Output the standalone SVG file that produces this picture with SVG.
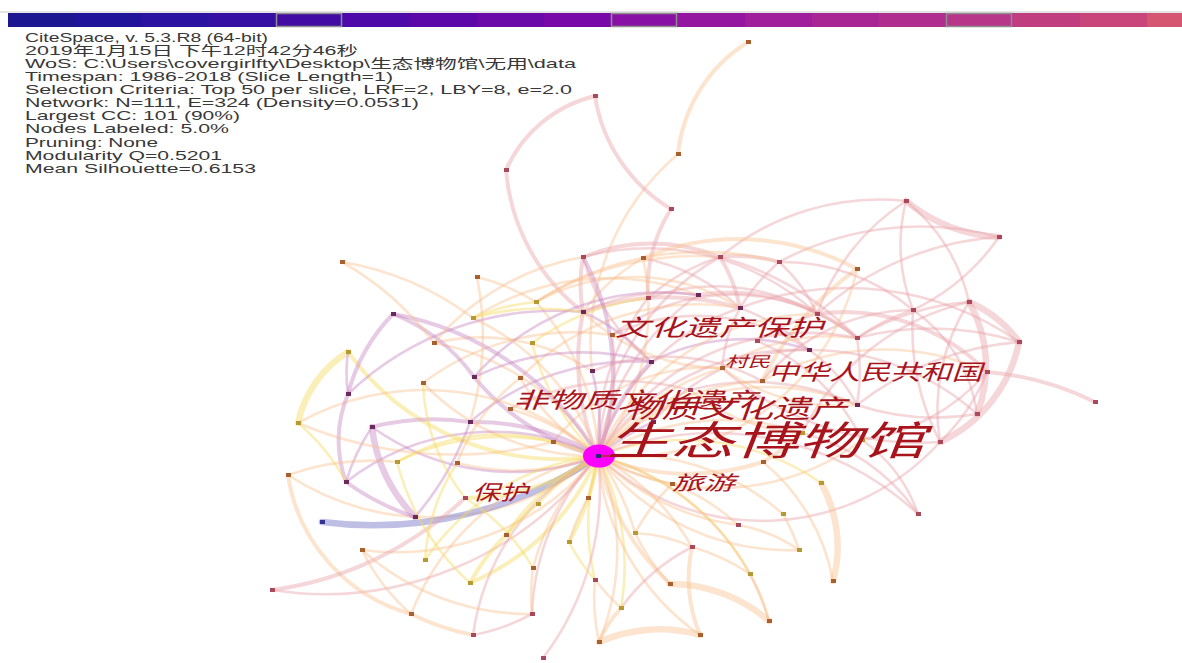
<svg xmlns="http://www.w3.org/2000/svg" width="1182" height="663" viewBox="0 0 1182 663">
<style>
.hd{font-family:"Liberation Sans","Noto Sans CJK SC",sans-serif;font-size:13px;fill:#383838}
.lb{font-family:"Noto Sans CJK SC","Noto Sans CJK TC",sans-serif;font-style:italic;fill:#a8141c}
#edges path{fill:none;stroke-linecap:round;stroke-opacity:.42}
.p{stroke:#e8a0a8}.o{stroke:#f8be8c}.y{stroke:#f6d858}.v{stroke:#c684c0}.b{stroke:#8a8ad0;stroke-opacity:.55!important}
.w1{stroke-width:2.6}.w2{stroke-width:4}.w3{stroke-width:6.5}
.n1{fill:#6a2a5c}.n2{fill:#a84a5c}.n3{fill:#a8602e}.n4{fill:#b49a30}.n5{fill:#34348e}
.box{fill:none;stroke:#8e8e8e;stroke-width:1.5}
</style>
<rect width="1182" height="663" fill="#ffffff"/>
<g id="colorbar">
<rect x="0" y="11" width="1182" height="2" fill="#e4e4e4"/>
<rect x="8" y="13" width="67" height="14" fill="#1c1690"/>
<rect x="75" y="13" width="67" height="14" fill="#22149a"/>
<rect x="142" y="13" width="67" height="14" fill="#2c12a0"/>
<rect x="209" y="13" width="67" height="14" fill="#3610a2"/>
<rect x="276" y="13" width="67" height="14" fill="#420ca4"/>
<rect x="343" y="13" width="67" height="14" fill="#4e0aa8"/>
<rect x="410" y="13" width="67" height="14" fill="#5c08a8"/>
<rect x="477" y="13" width="67" height="14" fill="#6a08a8"/>
<rect x="544" y="13" width="67" height="14" fill="#7808a8"/>
<rect x="611" y="13" width="67" height="14" fill="#8810a4"/>
<rect x="678" y="13" width="67" height="14" fill="#9416a0"/>
<rect x="745" y="13" width="67" height="14" fill="#a01e9c"/>
<rect x="812" y="13" width="67" height="14" fill="#a82694"/>
<rect x="879" y="13" width="67" height="14" fill="#b02e8e"/>
<rect x="946" y="13" width="67" height="14" fill="#b8368a"/>
<rect x="1013" y="13" width="67" height="14" fill="#c03e80"/>
<rect x="1080" y="13" width="67" height="14" fill="#c8467a"/>
<rect x="1147" y="13" width="35" height="14" fill="#d45670"/>
<rect class="box" x="276.5" y="13.5" width="65" height="13"/>
<rect class="box" x="611.5" y="13.5" width="65" height="13"/>
<rect class="box" x="946.5" y="13.5" width="65" height="13"/>
</g>
<g id="header">
<text class="hd" x="25" y="42" textLength="243" lengthAdjust="spacingAndGlyphs">CiteSpace, v. 5.3.R8 (64-bit)</text>
<text class="hd" x="25" y="55" textLength="333" lengthAdjust="spacingAndGlyphs">2019年1月15日 下午12时42分46秒</text>
<text class="hd" x="25" y="68" textLength="551" lengthAdjust="spacingAndGlyphs">WoS: C:\Users\covergirlfty\Desktop\生态博物馆\无用\data</text>
<text class="hd" x="25" y="81" textLength="368" lengthAdjust="spacingAndGlyphs">Timespan: 1986-2018 (Slice Length=1)</text>
<text class="hd" x="25" y="94" textLength="547" lengthAdjust="spacingAndGlyphs">Selection Criteria: Top 50 per slice, LRF=2, LBY=8, e=2.0</text>
<text class="hd" x="25" y="107" textLength="394" lengthAdjust="spacingAndGlyphs">Network: N=111, E=324 (Density=0.0531)</text>
<text class="hd" x="25" y="120" textLength="215" lengthAdjust="spacingAndGlyphs">Largest CC: 101 (90%)</text>
<text class="hd" x="25" y="133" textLength="204" lengthAdjust="spacingAndGlyphs">Nodes Labeled: 5.0%</text>
<text class="hd" x="25" y="147" textLength="133" lengthAdjust="spacingAndGlyphs">Pruning: None</text>
<text class="hd" x="25" y="160" textLength="197" lengthAdjust="spacingAndGlyphs">Modularity Q=0.5201</text>
<text class="hd" x="25" y="173" textLength="231" lengthAdjust="spacingAndGlyphs">Mean Silhouette=0.6153</text>
</g>
<g id="edges">
<path class="o w2" d="M748 42A150 150 0 0 0 678 154"/>
<path class="o w1" d="M678 154A250 250 0 0 0 592 371"/>
<path class="p w2" d="M595 96A130 130 0 0 0 506 170"/>
<path class="p w2" d="M595 96A160 160 0 0 0 671 209"/>
<path class="p w2" d="M506 170A200 200 0 0 0 583 312"/>
<path class="p w2" d="M671 209A150 150 0 0 0 648 298"/>
<path class="p w3" d="M906 201A160 160 0 0 0 999 237"/>
<path class="p w1" d="M906 201A180 180 0 0 0 913 310"/>
<path class="p w1" d="M906 201A180 180 0 0 1 969 302"/>
<path class="p w1" d="M906 201A220 220 0 0 0 817 314"/>
<path class="p w1" d="M999 237A220 220 0 0 1 913 310"/>
<path class="p w1" d="M999 237A300 300 0 0 0 817 314"/>
<path class="p w1" d="M779 262A300 300 0 0 1 999 237"/>
<path class="p w3" d="M969 302A120 120 0 0 1 1019 342"/>
<path class="p w3" d="M969 302A130 130 0 0 1 977 414"/>
<path class="p w3" d="M1019 342A140 140 0 0 1 940 442"/>
<path class="p w2" d="M987 372A300 300 0 0 1 1095 402"/>
<path class="p w1" d="M913 310A150 150 0 0 1 977 414"/>
<path class="p w1" d="M913 310A200 200 0 0 0 857 338"/>
<path class="p w1" d="M913 310A250 250 0 0 0 940 442"/>
<path class="p w1" d="M969 302A250 250 0 0 0 857 338"/>
<path class="p w1" d="M1019 342A300 300 0 0 0 857 405"/>
<path class="p w1" d="M969 302A200 200 0 0 0 940 442"/>
<path class="p w2" d="M817 314A200 200 0 0 1 987 372"/>
<path class="p w1" d="M740 308A300 300 0 0 1 1019 342"/>
<path class="p w1" d="M857 338A300 300 0 0 1 1019 342"/>
<path class="p w1" d="M977 414A250 250 0 0 1 857 405"/>
<path class="p w1" d="M987 372A200 200 0 0 1 940 442"/>
<path class="o w2" d="M857 269A300 300 0 0 0 762 381"/>
<path class="p w1" d="M720 257A250 250 0 0 1 906 201"/>
<path class="p w1" d="M779 262A200 200 0 0 1 913 310"/>
<path class="p w2" d="M583 257A180 180 0 0 1 720 257"/>
<path class="p w2" d="M720 257A150 150 0 0 1 779 262"/>
<path class="p w2" d="M583 257A150 150 0 0 0 583 312"/>
<path class="o w1" d="M643 258A200 200 0 0 0 583 312"/>
<path class="p w1" d="M643 258A200 200 0 0 1 740 308"/>
<path class="p w2" d="M720 257A150 150 0 0 1 740 308"/>
<path class="p w1" d="M720 257A200 200 0 0 0 648 298"/>
<path class="p w1" d="M779 262A150 150 0 0 1 817 314"/>
<path class="p w1" d="M779 262A200 200 0 0 0 740 308"/>
<path class="p w2" d="M583 312A250 250 0 0 1 740 308"/>
<path class="p w1" d="M583 312A200 200 0 0 1 698 295"/>
<path class="p w1" d="M648 298A200 200 0 0 1 817 314"/>
<path class="p w2" d="M698 295A200 200 0 0 1 857 338"/>
<path class="p w1" d="M720 257A300 300 0 0 1 857 338"/>
<path class="o w1" d="M536 302A300 300 0 0 1 720 257"/>
<path class="o w1" d="M536 302A300 300 0 0 1 779 262"/>
<path class="p w1" d="M583 257A250 250 0 0 1 817 314"/>
<path class="o w2" d="M643 258A250 250 0 0 1 857 269"/>
<path class="p w1" d="M740 308A200 200 0 0 1 809 350"/>
<path class="p w1" d="M817 314A200 200 0 0 0 757 341"/>
<path class="p w1" d="M740 308A150 150 0 0 0 722 368"/>
<path class="p w1" d="M612 335A200 200 0 0 1 809 350"/>
<path class="v w1" d="M583 312A200 200 0 0 1 651 362"/>
<path class="v w1" d="M651 362A200 200 0 0 1 809 350"/>
<path class="o w1" d="M722 368A200 200 0 0 1 857 338"/>
<path class="p w1" d="M762 381A200 200 0 0 1 913 310"/>
<path class="p w1" d="M690 390A250 250 0 0 1 857 405"/>
<path class="p w1" d="M857 338A200 200 0 0 1 857 405"/>
<path class="p w1" d="M722 368A300 300 0 0 0 940 442"/>
<path class="o w1" d="M762 381A250 250 0 0 1 987 372"/>
<path class="p w1" d="M809 350A250 250 0 0 1 977 414"/>
<path class="p w1" d="M862 440A200 200 0 0 0 987 372"/>
<path class="p w1" d="M802 433A250 250 0 0 1 969 302"/>
<path class="o w1" d="M536 302A200 200 0 0 1 740 308"/>
<path class="o w1" d="M583 312A200 200 0 0 0 722 368"/>
<path class="p w1" d="M612 335A200 200 0 0 1 857 338"/>
<path class="p w1" d="M583 257A200 200 0 0 0 651 362"/>
<path class="o w1" d="M473 318A250 250 0 0 1 698 295"/>
<path class="y w1" d="M532 343A250 250 0 0 1 648 298"/>
<path class="o w1" d="M520 378A250 250 0 0 1 740 308"/>
<path class="o w1" d="M434 343A200 200 0 0 1 592 371"/>
<path class="o w1" d="M423 383A250 250 0 0 1 612 335"/>
<path class="p w1" d="M510 409A250 250 0 0 1 690 390"/>
<path class="v w1" d="M470 422A250 250 0 0 1 651 362"/>
<path class="v w1" d="M474 377A250 250 0 0 1 698 295"/>
<path class="p w1" d="M592 371A200 200 0 0 1 762 381"/>
<path class="p w1" d="M653 422A200 200 0 0 1 809 350"/>
<path class="o w1" d="M690 390A200 200 0 0 0 802 433"/>
<path class="p w1" d="M757 341A200 200 0 0 1 862 440"/>
<path class="p w1" d="M809 350A150 150 0 0 1 857 405"/>
<path class="o w1" d="M722 368A200 200 0 0 0 857 405"/>
<path class="o w1" d="M553 442A200 200 0 0 1 722 368"/>
<path class="p w2" d="M598 456A240 240 0 0 1 583 312"/>
<path class="v w2" d="M598 456A240 240 0 0 0 583 257"/>
<path class="p w1" d="M598 456A240 240 0 0 1 648 298"/>
<path class="p w1" d="M598 456A240 240 0 0 1 698 295"/>
<path class="p w1" d="M598 456A240 240 0 0 1 720 257"/>
<path class="o w1" d="M598 456A240 240 0 0 0 643 258"/>
<path class="v w2" d="M598 456A220 220 0 0 1 651 362"/>
<path class="v w1" d="M598 456A220 220 0 0 0 592 371"/>
<path class="p w1" d="M598 456A220 220 0 0 1 740 308"/>
<path class="o w1" d="M598 456A240 240 0 0 1 817 314"/>
<path class="p w1" d="M598 456A240 240 0 0 1 809 350"/>
<path class="o w1" d="M598 456A240 240 0 0 1 722 368"/>
<path class="o w1" d="M598 456A240 240 0 0 1 762 381"/>
<path class="p w1" d="M598 456A240 240 0 0 1 857 338"/>
<path class="o w1" d="M598 456A240 240 0 0 1 690 390"/>
<path class="p w1" d="M598 456A240 240 0 0 0 612 335"/>
<path class="v w1" d="M598 456A240 240 0 0 1 653 422"/>
<path class="o w1" d="M598 456A240 240 0 0 1 857 405"/>
<path class="o w1" d="M598 456A240 240 0 0 0 862 440"/>
<path class="o w1" d="M598 456A240 240 0 0 1 802 433"/>
<path class="o w2" d="M598 456A240 240 0 0 0 763 462"/>
<path class="p w1" d="M598 456A240 240 0 0 0 940 442"/>
<path class="o w1" d="M598 456A240 240 0 0 0 857 269"/>
<path class="o w1" d="M598 456A240 240 0 0 0 536 302"/>
<path class="y w1" d="M598 456A240 240 0 0 1 532 343"/>
<path class="o w1" d="M598 456A240 240 0 0 1 520 378"/>
<path class="o w1" d="M598 456A240 240 0 0 0 510 409"/>
<path class="v w2" d="M598 456A240 240 0 0 1 474 377"/>
<path class="o w1" d="M598 456A240 240 0 0 0 473 318"/>
<path class="v w2" d="M598 456A240 240 0 0 0 470 422"/>
<path class="o w1" d="M598 456A240 240 0 0 1 553 442"/>
<path class="o w1" d="M598 456A240 240 0 0 0 434 343"/>
<path class="o w1" d="M598 456A240 240 0 0 1 423 383"/>
<path class="v w2" d="M598 456A300 300 0 0 0 393 314"/>
<path class="y w1" d="M598 456A240 240 0 0 0 397 462"/>
<path class="o w1" d="M598 456A240 240 0 0 1 457 463"/>
<path class="v w1" d="M598 456A240 240 0 0 1 372 427"/>
<path class="v w1" d="M598 456A240 240 0 0 0 346 482"/>
<path class="y w2" d="M598 456A260 260 0 0 1 348 352"/>
<path class="o w1" d="M598 456A260 260 0 0 0 298 423"/>
<path class="o w1" d="M598 456A260 260 0 0 1 288 475"/>
<path class="b w3" d="M598 456A400 400 0 0 1 322 522"/>
<path class="y w2" d="M598 456A240 240 0 0 1 465 498"/>
<path class="y w1" d="M598 456A240 240 0 0 0 538 504"/>
<path class="o w1" d="M598 456A240 240 0 0 1 588 498"/>
<path class="y w2" d="M598 456A240 240 0 0 0 506 535"/>
<path class="y w2" d="M598 456A240 240 0 0 1 569 542"/>
<path class="y w1" d="M598 456A240 240 0 0 0 425 560"/>
<path class="y w2" d="M598 456A240 240 0 0 1 470 583"/>
<path class="o w1" d="M598 456A240 240 0 0 0 533 568"/>
<path class="y w1" d="M598 456A240 240 0 0 0 595 580"/>
<path class="o w1" d="M598 456A240 240 0 0 1 635 533"/>
<path class="o w2" d="M598 456A240 240 0 0 0 670 584"/>
<path class="o w1" d="M598 456A240 240 0 0 1 692 547"/>
<path class="o w1" d="M598 456A240 240 0 0 0 672 484"/>
<path class="y w1" d="M598 456A240 240 0 0 1 621 608"/>
<path class="o w1" d="M598 456A240 240 0 0 0 738 525"/>
<path class="y w1" d="M598 456A240 240 0 0 1 750 574"/>
<path class="o w1" d="M598 456A240 240 0 0 0 799 550"/>
<path class="o w1" d="M598 456A240 240 0 0 1 783 514"/>
<path class="y w1" d="M598 456A240 240 0 0 1 821 483"/>
<path class="p w1" d="M598 456A240 240 0 0 0 532 614"/>
<path class="o w1" d="M598 456A240 240 0 0 1 599 642"/>
<path class="p w1" d="M598 456A240 240 0 0 0 473 635"/>
<path class="p w1" d="M598 456A280 280 0 0 1 543 658"/>
<path class="o w1" d="M598 456A260 260 0 0 1 362 550"/>
<path class="o w1" d="M598 456A260 260 0 0 0 411 614"/>
<path class="p w1" d="M598 456A340 340 0 0 1 272 590"/>
<path class="o w1" d="M598 456A240 240 0 0 1 769 621"/>
<path class="o w1" d="M598 456A240 240 0 0 0 700 635"/>
<path class="p w1" d="M598 456A300 300 0 0 1 918 514"/>
<path class="v w2" d="M393 314A180 180 0 0 1 474 377"/>
<path class="v w2" d="M393 314A180 180 0 0 0 348 394"/>
<path class="v w2" d="M348 394A120 120 0 0 0 346 482"/>
<path class="y w3" d="M348 352A110 110 0 0 0 298 423"/>
<path class="v w1" d="M348 352A150 150 0 0 0 348 394"/>
<path class="v w3" d="M372 427A150 150 0 0 0 415 517"/>
<path class="v w2" d="M372 427A250 250 0 0 1 470 422"/>
<path class="v w2" d="M346 482A250 250 0 0 0 415 517"/>
<path class="v w1" d="M346 482A200 200 0 0 1 372 427"/>
<path class="o w2" d="M288 475A170 170 0 0 0 411 614"/>
<path class="o w1" d="M342 262A300 300 0 0 1 473 318"/>
<path class="o w1" d="M477 277A300 300 0 0 1 470 422"/>
<path class="v w1" d="M474 377A250 250 0 0 1 651 362"/>
<path class="v w1" d="M348 394A300 300 0 0 1 583 312"/>
<path class="o w1" d="M298 423A400 400 0 0 0 553 442"/>
<path class="p w2" d="M272 590A350 350 0 0 0 465 498"/>
<path class="o w1" d="M434 343A250 250 0 0 1 583 257"/>
<path class="y w1" d="M473 318A250 250 0 0 1 583 312"/>
<path class="o w1" d="M362 550A250 250 0 0 0 532 614"/>
<path class="v w1" d="M415 517A300 300 0 0 0 470 422"/>
<path class="y w1" d="M397 462A200 200 0 0 1 553 442"/>
<path class="o w1" d="M457 463A200 200 0 0 1 520 378"/>
<path class="y w1" d="M465 498A200 200 0 0 1 423 383"/>
<path class="y w1" d="M425 560A200 200 0 0 1 457 463"/>
<path class="y w1" d="M470 583A250 250 0 0 1 397 462"/>
<path class="y w1" d="M533 568A200 200 0 0 0 465 498"/>
<path class="o w1" d="M588 498A200 200 0 0 0 569 542"/>
<path class="y w1" d="M538 504A200 200 0 0 0 506 535"/>
<path class="o w1" d="M288 475A250 250 0 0 1 397 462"/>
<path class="y w1" d="M298 423A200 200 0 0 1 346 482"/>
<path class="o w1" d="M342 262A300 300 0 0 1 434 343"/>
<path class="o w1" d="M477 277A200 200 0 0 1 536 302"/>
<path class="y w1" d="M536 302A200 200 0 0 0 473 318"/>
<path class="o w3" d="M599 642A150 150 0 0 1 700 635"/>
<path class="o w3" d="M670 584A150 150 0 0 1 769 621"/>
<path class="o w3" d="M821 483A130 130 0 0 1 833 581"/>
<path class="o w2" d="M692 547A150 150 0 0 0 700 635"/>
<path class="o w2" d="M621 608A120 120 0 0 0 599 642"/>
<path class="o w2" d="M411 614A250 250 0 0 0 473 635"/>
<path class="p w1" d="M918 514A150 150 0 0 0 862 440"/>
<path class="o w1" d="M738 525A150 150 0 0 1 799 550"/>
<path class="o w1" d="M763 462A200 200 0 0 1 833 581"/>
<path class="o w1" d="M692 547A200 200 0 0 1 750 574"/>
<path class="o w1" d="M635 533A150 150 0 0 1 692 547"/>
<path class="y w1" d="M569 542A200 200 0 0 0 595 580"/>
<path class="o w1" d="M595 580A250 250 0 0 0 621 608"/>
<path class="o w1" d="M533 568A200 200 0 0 0 532 614"/>
<path class="y w2" d="M506 535A200 200 0 0 0 470 583"/>
<path class="o w1" d="M672 484A200 200 0 0 1 738 525"/>
<path class="p w1" d="M802 433A200 200 0 0 1 918 514"/>
<path class="o w2" d="M763 462A250 250 0 0 0 802 433"/>
<path class="o w1" d="M635 533A200 200 0 0 0 670 584"/>
<path class="o w1" d="M672 484A200 200 0 0 0 635 533"/>
<path class="p w1" d="M692 547A200 200 0 0 0 621 608"/>
<path class="o w1" d="M783 514A200 200 0 0 1 799 550"/>
<path class="o w1" d="M750 574A200 200 0 0 1 769 621"/>
<path class="o w1" d="M595 580A200 200 0 0 0 599 642"/>
<path class="p w1" d="M532 614A200 200 0 0 1 473 635"/>
<path class="o w1" d="M411 614A200 200 0 0 1 362 550"/>
</g>
<g id="nodes">
<g id="n01"><rect class="n3" x="746" y="40" width="5" height="4"/></g>
<g id="n02"><rect class="n2" x="593" y="94" width="5" height="4"/></g>
<g id="n03"><rect class="n2" x="504" y="168" width="5" height="4"/></g>
<g id="n04"><rect class="n3" x="676" y="152" width="5" height="4"/></g>
<g id="n05"><rect class="n2" x="669" y="207" width="5" height="4"/></g>
<g id="n06"><rect class="n2" x="581" y="255" width="5" height="4"/></g>
<g id="n07"><rect class="n3" x="641" y="256" width="5" height="4"/></g>
<g id="n08"><rect class="n2" x="718" y="255" width="5" height="4"/></g>
<g id="n09"><rect class="n2" x="777" y="260" width="5" height="4"/></g>
<g id="n10"><rect class="n2" x="904" y="199" width="5" height="4"/></g>
<g id="n11"><rect class="n2" x="997" y="235" width="5" height="4"/></g>
<g id="n12"><rect class="n3" x="855" y="267" width="5" height="4"/></g>
<g id="n13"><rect class="n3" x="340" y="260" width="5" height="4"/></g>
<g id="n14"><rect class="n3" x="475" y="275" width="5" height="4"/></g>
<g id="n15"><rect class="n2" x="646" y="296" width="5" height="4"/></g>
<g id="n16"><rect class="n1" x="696" y="293" width="5" height="4"/></g>
<g id="n17"><rect class="n4" x="534" y="300" width="5" height="4"/></g>
<g id="n18"><rect class="n4" x="471" y="316" width="5" height="4"/></g>
<g id="n19"><rect class="n1" x="391" y="312" width="5" height="4"/></g>
<g id="n20"><rect class="n1" x="581" y="310" width="5" height="4"/></g>
<g id="n21"><rect class="n1" x="738" y="306" width="5" height="4"/></g>
<g id="n22"><rect class="n2" x="815" y="312" width="5" height="4"/></g>
<g id="n23"><rect class="n2" x="911" y="308" width="5" height="4"/></g>
<g id="n24"><rect class="n2" x="967" y="300" width="5" height="4"/></g>
<g id="n25"><rect class="n2" x="1017" y="340" width="5" height="4"/></g>
<g id="n26"><rect class="n3" x="432" y="341" width="5" height="4"/></g>
<g id="n27"><rect class="n4" x="530" y="341" width="5" height="4"/></g>
<g id="n28"><rect class="n3" x="610" y="333" width="5" height="4"/><text class="lb" x="615" y="336" font-size="23" textLength="208" lengthAdjust="spacingAndGlyphs">文化遗产保护</text></g>
<g id="n29"><rect class="n4" x="346" y="350" width="5" height="4"/></g>
<g id="n30"><rect class="n1" x="649" y="360" width="5" height="4"/></g>
<g id="n31"><rect class="n1" x="590" y="369" width="5" height="4"/></g>
<g id="n32"><rect class="n2" x="755" y="339" width="5" height="4"/></g>
<g id="n33"><rect class="n2" x="855" y="336" width="5" height="4"/></g>
<g id="n34"><rect class="n1" x="807" y="348" width="5" height="4"/></g>
<g id="n35"><rect class="n1" x="472" y="375" width="5" height="4"/></g>
<g id="n36"><rect class="n3" x="421" y="381" width="5" height="4"/></g>
<g id="n37"><rect class="n3" x="518" y="376" width="5" height="4"/></g>
<g id="n38"><rect class="n3" x="720" y="366" width="5" height="4"/><text class="lb" x="725" y="367" font-size="15" textLength="45" lengthAdjust="spacingAndGlyphs">村民</text></g>
<g id="n39"><rect class="n3" x="760" y="379" width="5" height="4"/><text class="lb" x="768" y="380" font-size="22" textLength="214" lengthAdjust="spacingAndGlyphs">中华人民共和国</text></g>
<g id="n40"><rect class="n2" x="688" y="388" width="5" height="4"/></g>
<g id="n41"><rect class="n2" x="985" y="370" width="5" height="4"/></g>
<g id="n42"><rect class="n2" x="1093" y="400" width="5" height="4"/></g>
<g id="n43"><rect class="n1" x="346" y="392" width="5" height="4"/></g>
<g id="n44"><rect class="n3" x="508" y="407" width="5" height="4"/><text class="lb" x="513" y="408" font-size="22" textLength="245" lengthAdjust="spacingAndGlyphs">非物质文化遗产</text></g>
<g id="n45"><rect class="n1" x="855" y="403" width="5" height="4"/></g>
<g id="n46"><rect class="n2" x="975" y="412" width="5" height="4"/></g>
<g id="n47"><rect class="n4" x="296" y="421" width="5" height="4"/></g>
<g id="n48"><rect class="n1" x="468" y="420" width="5" height="4"/></g>
<g id="n49"><rect class="n1" x="370" y="425" width="5" height="4"/></g>
<g id="n50"><rect class="n3" x="551" y="440" width="5" height="4"/></g>
<g id="n51"><rect class="n1" x="651" y="420" width="5" height="4"/><text class="lb" x="624" y="418" font-size="26" textLength="223" lengthAdjust="spacingAndGlyphs">物质文化遗产</text></g>
<g id="n52"><rect class="n2" x="938" y="440" width="5" height="4"/></g>
<g id="n53"><rect class="n4" x="860" y="438" width="5" height="4"/></g>
<g id="n54"><rect class="n4" x="800" y="431" width="5" height="4"/></g>
<g id="n55"><rect class="n4" x="395" y="460" width="5" height="4"/></g>
<g id="n56"><rect class="n3" x="455" y="461" width="5" height="4"/></g>
<g id="n57"><rect class="n3" x="761" y="460" width="5" height="4"/></g>
<g id="n58"><rect class="n3" x="286" y="473" width="5" height="4"/></g>
<g id="n59"><rect class="n1" x="344" y="480" width="5" height="4"/></g>
<g id="n60"><rect class="n2" x="463" y="496" width="5" height="4"/><text class="lb" x="472" y="500" font-size="21" textLength="56" lengthAdjust="spacingAndGlyphs">保护</text></g>
<g id="n61"><rect class="n3" x="586" y="496" width="5" height="4"/></g>
<g id="n62"><rect class="n4" x="536" y="502" width="5" height="4"/></g>
<g id="n63"><rect class="n3" x="670" y="482" width="5" height="4"/><text class="lb" x="672" y="490" font-size="20" textLength="63" lengthAdjust="spacingAndGlyphs">旅游</text></g>
<g id="n64"><rect class="n4" x="819" y="481" width="5" height="4"/></g>
<g id="n65"><rect class="n5" x="320" y="520" width="5" height="4"/></g>
<g id="n66"><rect class="n1" x="413" y="515" width="5" height="4"/></g>
<g id="n67"><rect class="n3" x="504" y="533" width="5" height="4"/></g>
<g id="n68"><rect class="n4" x="567" y="540" width="5" height="4"/></g>
<g id="n69"><rect class="n4" x="633" y="531" width="5" height="4"/></g>
<g id="n70"><rect class="n3" x="360" y="548" width="5" height="4"/></g>
<g id="n71"><rect class="n2" x="690" y="545" width="5" height="4"/></g>
<g id="n72"><rect class="n4" x="423" y="558" width="5" height="4"/></g>
<g id="n73"><rect class="n3" x="531" y="566" width="5" height="4"/></g>
<g id="n74"><rect class="n4" x="781" y="512" width="5" height="4"/></g>
<g id="n75"><rect class="n2" x="916" y="512" width="5" height="4"/></g>
<g id="n76"><rect class="n2" x="736" y="523" width="5" height="4"/></g>
<g id="n77"><rect class="n4" x="797" y="548" width="5" height="4"/></g>
<g id="n78"><rect class="n4" x="468" y="581" width="5" height="4"/></g>
<g id="n79"><rect class="n2" x="593" y="578" width="5" height="4"/></g>
<g id="n80"><rect class="n3" x="668" y="582" width="5" height="4"/></g>
<g id="n81"><rect class="n4" x="748" y="572" width="5" height="4"/></g>
<g id="n82"><rect class="n3" x="831" y="579" width="5" height="4"/></g>
<g id="n83"><rect class="n3" x="409" y="612" width="5" height="4"/></g>
<g id="n84"><rect class="n2" x="530" y="612" width="5" height="4"/></g>
<g id="n85"><rect class="n4" x="619" y="606" width="5" height="4"/></g>
<g id="n86"><rect class="n3" x="767" y="619" width="5" height="4"/></g>
<g id="n87"><rect class="n2" x="471" y="633" width="5" height="4"/></g>
<g id="n88"><rect class="n3" x="597" y="640" width="5" height="4"/></g>
<g id="n89"><rect class="n3" x="698" y="633" width="5" height="4"/></g>
<g id="n90"><rect class="n2" x="541" y="656" width="5" height="4"/></g>
<g id="n91"><rect class="n2" x="270" y="588" width="5" height="4"/></g>
<g id="hub">
<ellipse cx="599" cy="456" rx="16" ry="11.5" fill="#ff00ff"/>
<line x1="599" y1="456" x2="614" y2="456" stroke="#b02a2a" stroke-width="1.5"/>
<rect x="596" y="454" width="5" height="4" fill="#2a2a70"/>
<text class="lb" x="607" y="455" font-size="40" textLength="318" lengthAdjust="spacingAndGlyphs">生态博物馆</text>
</g>
</g>
</svg>
